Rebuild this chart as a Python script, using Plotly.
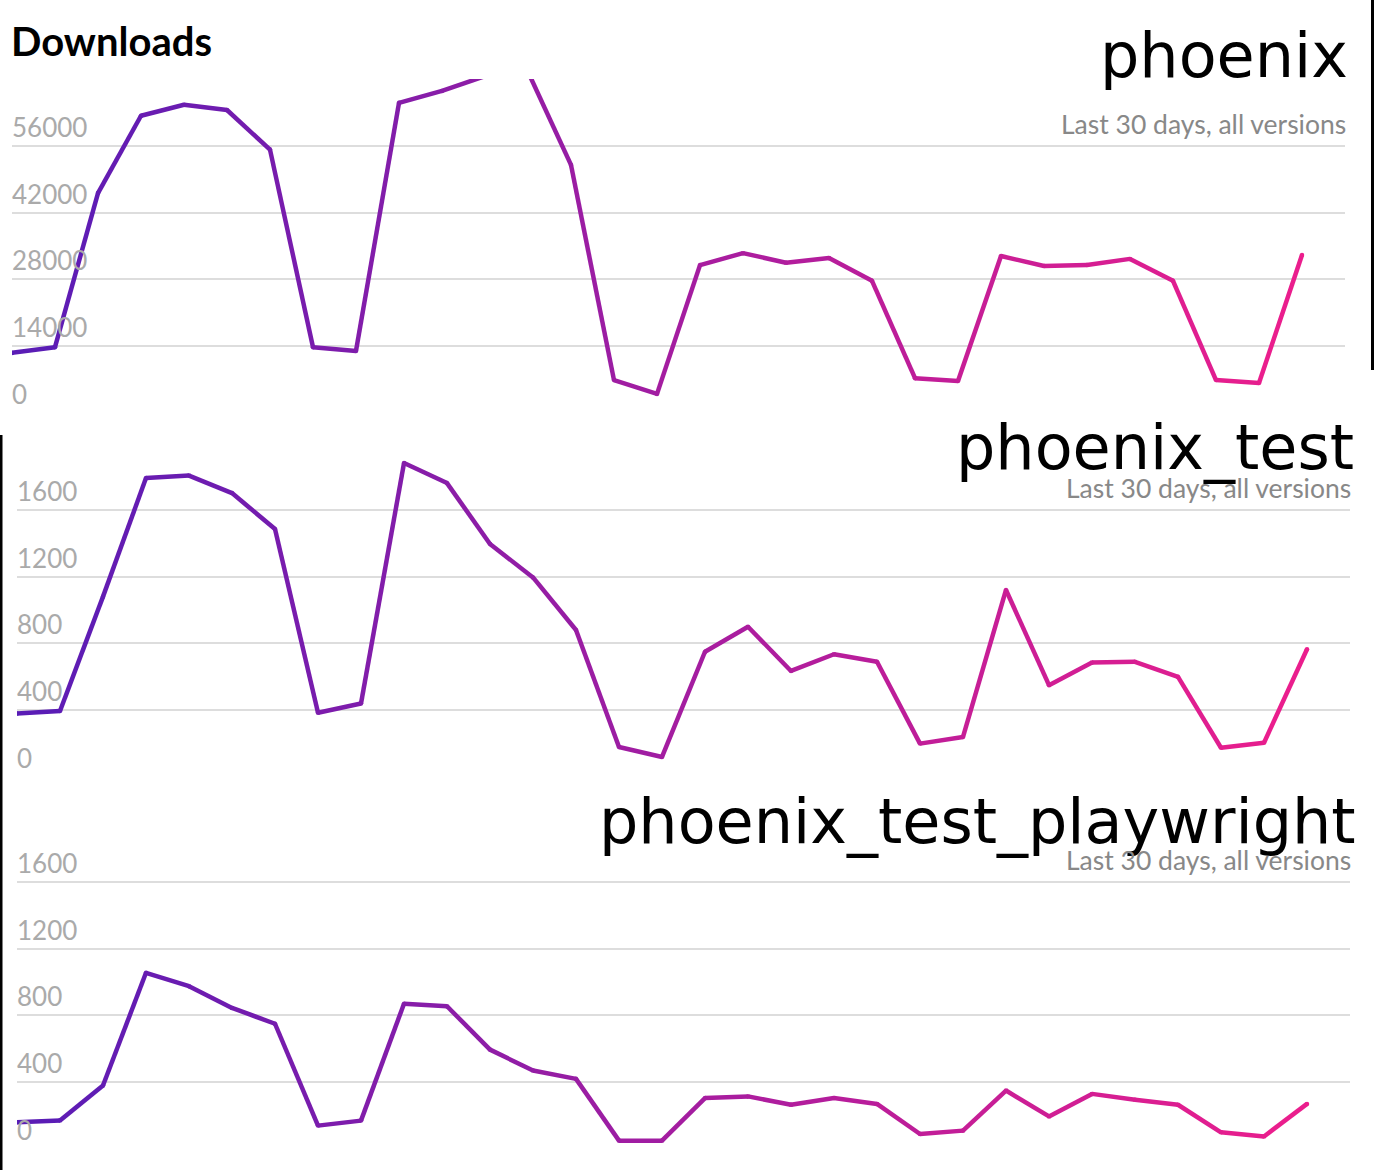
import plotly.graph_objects as go

days = list(range(31))

phoenix = [12600, 13800, 46100, 62300, 64600, 63500, 55200, 13800, 13000, 65000,
           67500, 70600, 71500, 52000, 6900, 4000, 31000, 33500, 31500, 32500,
           27700, 7300, 6700, 32900, 30800, 31000, 32300, 27700, 6900, 6300, 33100]

phoenix_test = [380, 395, 1080, 1790, 1805, 1700, 1485, 385, 440, 1880,
                1760, 1395, 1195, 880, 180, 120, 750, 900, 635, 735,
                690, 200, 240, 1120, 550, 685, 690, 600, 175, 205, 765]

phoenix_test_playwright = [160, 170, 380, 1055, 975, 845, 750, 140, 170, 870,
                           855, 595, 470, 420, 50, 50, 305, 315, 265, 305,
                           270, 90, 110, 350, 195, 330, 295, 265, 100, 75, 270]

panels = [
    ("phoenix", phoenix, 70000, [0, 14000, 28000, 42000, 56000]),
    ("phoenix_test", phoenix_test, 2000, [0, 400, 800, 1200, 1600]),
    ("phoenix_test_playwright", phoenix_test_playwright, 2000, [0, 400, 800, 1200, 1600]),
]

W, H = 1374, 1170
start_rgb = (88, 28, 182)
end_rgb = (236, 30, 140)


def grad(t):
    c = [round(a + (b - a) * t) for a, b in zip(start_rgb, end_rgb)]
    return "rgb(%d,%d,%d)" % tuple(c)


# pixel boxes of each plot area: (left, right, zero line, top)
boxes = [(12, 1345, 413, 79), (17, 1350, 777, 443), (17, 1350, 1149, 815)]

fig = go.Figure()
n = len(days) - 1
for k, (name, vals, ymax, ticks) in enumerate(panels):
    sfx = "" if k == 0 else str(k + 1)
    for i in range(n):
        fig.add_scatter(x=days[i:i + 2], y=vals[i:i + 2], mode="lines",
                        line=dict(color=grad((i + 0.5) / n), width=4.5),
                        xaxis="x" + sfx, yaxis="y" + sfx, showlegend=False, hoverinfo="skip")
    fig.add_scatter(x=days, y=vals, mode="markers",
                    marker=dict(color=[grad(i / n) for i in days], size=4.5, line_width=0),
                    xaxis="x" + sfx, yaxis="y" + sfx, showlegend=False, hoverinfo="skip")

    left, right, zero, top = boxes[k]
    xd = [left / W, right / W]
    yd = [1 - zero / H, 1 - top / H]
    fig.layout["xaxis" + sfx] = dict(domain=xd, range=[0, 31], visible=False, anchor="y" + sfx)
    fig.layout["yaxis" + sfx] = dict(
        domain=yd, range=[0, ymax], anchor="x" + sfx, tickvals=ticks, tickformat="d",
        ticklabelposition="inside top", showgrid=True, gridcolor="#dddddd", gridwidth=2,
        zeroline=False, showline=False, ticks="", ticklabelstandoff=-3,
        tickfont=dict(family="Lato", size=26, color="#aaaaaa"),
    )

    # package name and subtitle
    title_y = [94, 486, 860][k]
    sub_y = [124, 488, 860][k]
    title_x = [1350, 1356, 1358][k]
    fig.add_annotation(text=name, x=title_x / W, y=1 - title_y / H, xref="paper", yref="paper",
                       xanchor="right", yanchor="bottom", showarrow=False,
                       font=dict(family="DejaVu Sans", size=62, color="#000000"))
    fig.add_annotation(text="Last 30 days, all versions", x=1353 / W if k else 1348 / W,
                       y=1 - sub_y / H, xref="paper", yref="paper",
                       xanchor="right", yanchor="middle", showarrow=False,
                       font=dict(family="Lato", size=26.5, color="#888888"))

fig.add_annotation(text="<b>Downloads</b>", x=9 / W, y=1 - 41 / H, xref="paper", yref="paper",
                   xanchor="left", yanchor="middle", showarrow=False,
                   font=dict(family="Lato", size=40, color="#000000"))

# screenshot border edges
fig.add_shape(type="line", xref="paper", yref="paper", x0=1372.5 / W, x1=1372.5 / W,
              y0=1, y1=1 - 370 / H, line=dict(color="#000000", width=3))
fig.add_shape(type="line", xref="paper", yref="paper", x0=1 / W, x1=1 / W,
              y0=1 - 435 / H, y1=0, line=dict(color="#000000", width=3))

fig.update_layout(width=W, height=H, margin=dict(l=0, r=0, t=0, b=0),
                  plot_bgcolor="white", paper_bgcolor="white")
fig.write_html("out.html", config={"displayModeBar": False},
               post_script="document.body.style.margin='0';")
